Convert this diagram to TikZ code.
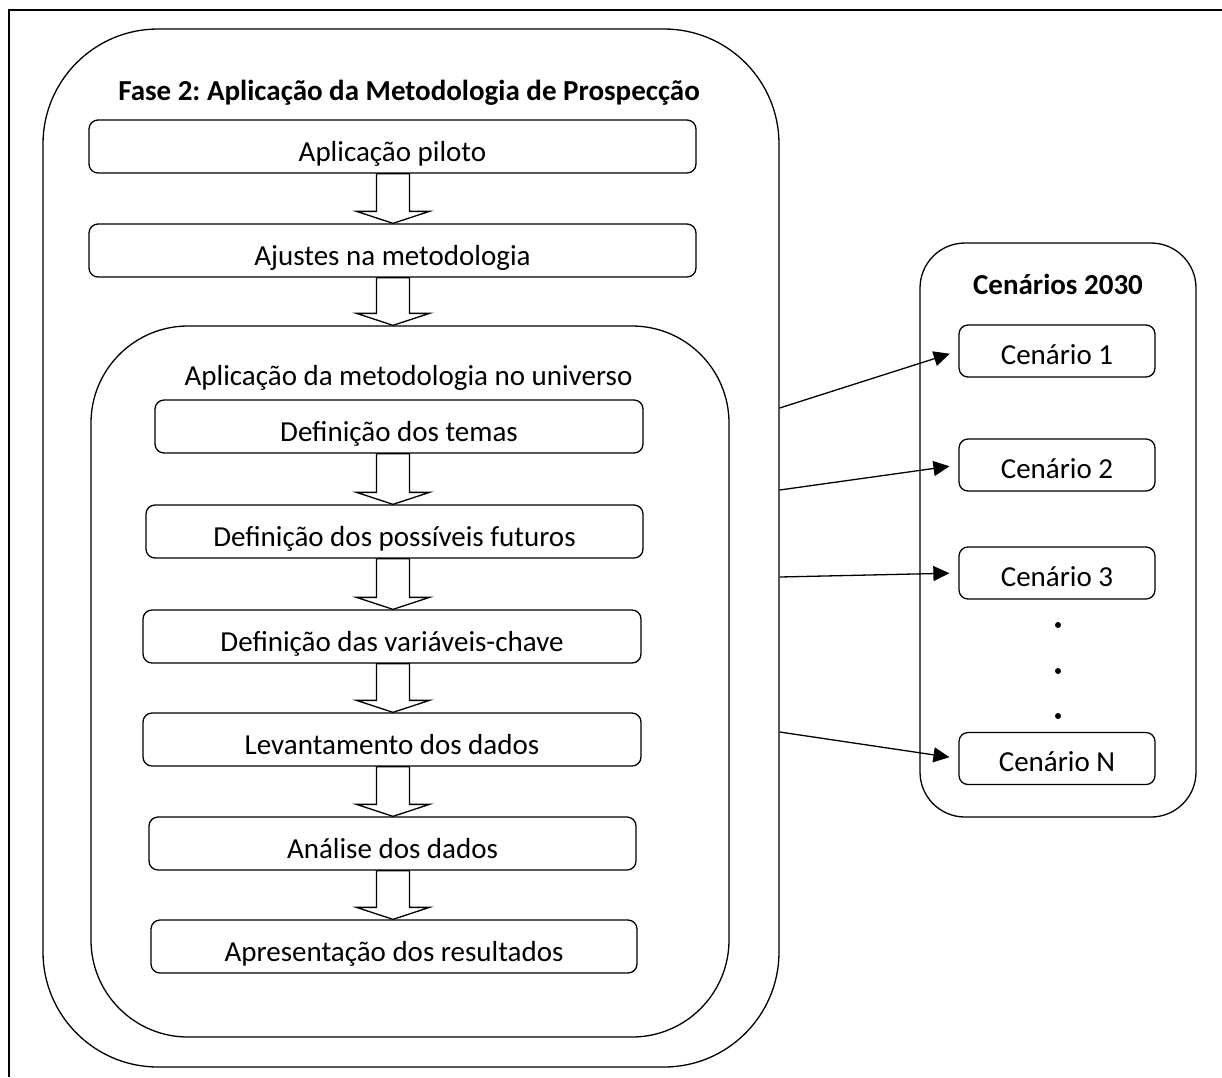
\documentclass[tikz,border=0pt]{standalone}
\usepackage{fontspec}
\setmainfont{Carlito}
\frenchspacing
\usetikzlibrary{arrows.meta,calc}
\newcommand\myblockarrow[2]{%
  \path let \p1=(#1.south), \p2=(#2.north) in
    [draw, fill=white, line join=miter]
    (376.5pt,\y1) -- (409.5pt,\y1) -- (409.5pt,\y2+12pt) -- (429.5pt,\y2+12pt)
    -- (393pt,\y2) -- (356.5pt,\y2+12pt) -- (376.5pt,\y2+12pt) -- cycle;}
\begin{document}
\begin{tikzpicture}[x=1pt,y=-1pt,line width=1.3pt,
  txt/.style={font=\fontsize{29}{35}\selectfont},
  boldtxt/.style={font=\fontsize{29}{35}\selectfont\bfseries},
  stepbox/.style={draw, rounded corners=9pt, inner sep=0pt, text depth=12pt,
    text height=41pt, txt},
  cenbox/.style={draw, rounded corners=9pt, inner sep=0pt, text depth=13pt,
    text height=39pt, minimum width=196pt, txt},
  bigbox/.style={draw, inner sep=0pt},
  link/.style={-{Triangle[length=16pt,width=15pt]}, shorten >=9pt}]
\useasboundingbox (0,0) rectangle (1222,1077);
% page frame (top and left edges only)
\draw (1222,10) -- (9,10) -- (9,1077);

% big containers
\node[bigbox, rounded corners=115pt, minimum width=736pt, minimum height=1038pt] (fase) at (411,548) {};
\node[bigbox, rounded corners=97pt, minimum width=638pt, minimum height=711pt] (univ) at (410,681.5) {};
\node[bigbox, rounded corners=45pt, minimum width=276pt, minimum height=574pt] (cen) at (1058,530) {};

% titles
\node[boldtxt, anchor=base, inner sep=0pt] (tfase) at (409,100) {Fase 2: Aplicação da Metodologia de Prospecção};
\node[txt, anchor=base, inner sep=0pt] (tuniv) at (408.5,385) {Aplicação da metodologia no universo};
\node[boldtxt, anchor=base, inner sep=0pt] (tcen) at (1058,294) {Cenários 2030};

% steps
\node[stepbox, minimum width=607pt] (b1) at (392.5,146.5) {Aplicação piloto};
\node[stepbox, minimum width=607pt] (b2) at (392.5,250.5) {Ajustes na metodologia};
\node[stepbox, minimum width=488pt] (b3) at (399,426.5) {Definição dos temas};
\node[stepbox, minimum width=497pt] (b4) at (394.5,531.5) {Definição dos possíveis futuros};
\node[stepbox, minimum width=498pt] (b5) at (392,636.5) {Definição das variáveis-chave};
\node[stepbox, minimum width=498pt] (b6) at (392,739.5) {Levantamento dos dados};
\node[stepbox, minimum width=487pt] (b7) at (392.5,843.5) {Análise dos dados};
\node[stepbox, minimum width=486pt] (b8) at (394,946.5) {Apresentação dos resultados};

% block arrows
\myblockarrow{b1}{b2}
\myblockarrow{b2}{univ}
\myblockarrow{b3}{b4}
\myblockarrow{b4}{b5}
\myblockarrow{b5}{b6}
\myblockarrow{b6}{b7}
\myblockarrow{b7}{b8}

% scenarios
\node[cenbox] (c1) at (1057,351) {Cenário 1};
\node[cenbox] (c2) at (1057,465) {Cenário 2};
\node[cenbox] (c3) at (1057,573) {Cenário 3};
\node[cenbox] (cN) at (1057,758.5) {Cenário N};
\fill (1058,625) circle (3pt);
\fill (1058,671) circle (3pt);
\fill (1058,716) circle (3pt);

% connectors
\coordinate (s1) at (fase.east |- 0,408);
\coordinate (s2) at (fase.east |- 0,490);
\coordinate (s3) at (fase.east |- 0,577);
\coordinate (s4) at (fase.east |- 0,732);
\draw[link] (s1) -- (c1.west);
\draw[link] (s2) -- (c2.west);
\draw[link] (s3) -- (c3.west);
\draw[link] (s4) -- (cN.west);
\end{tikzpicture}
\end{document}
